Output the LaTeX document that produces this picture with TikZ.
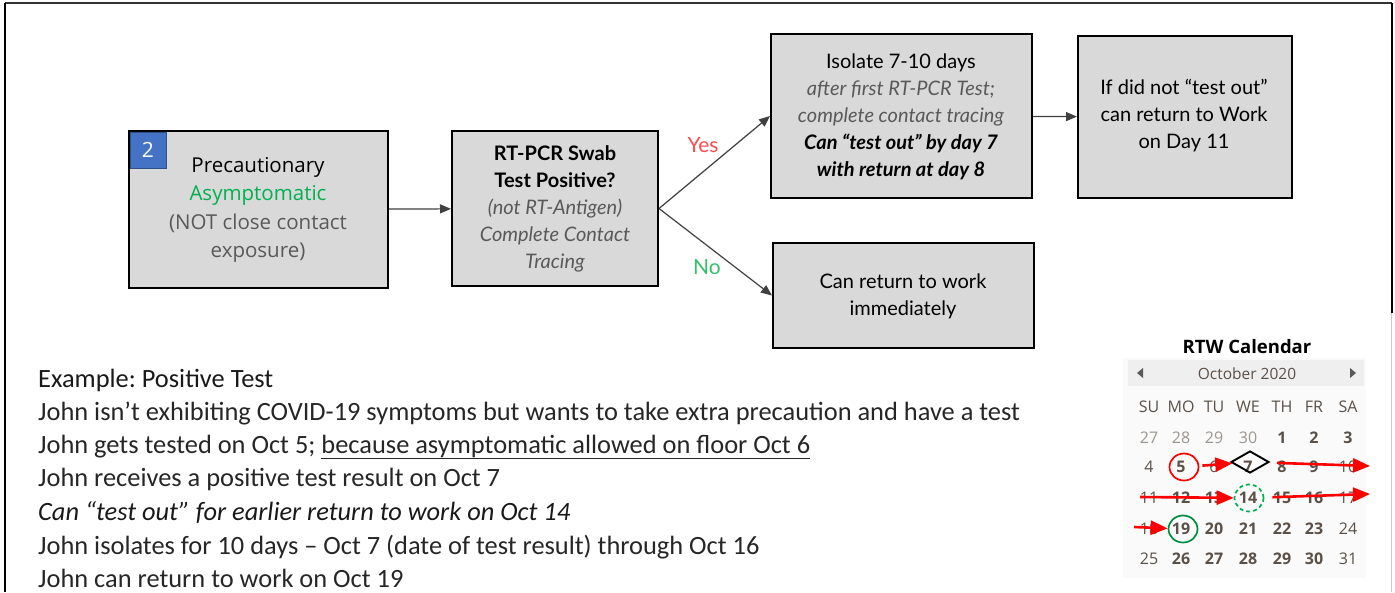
\documentclass[tikz,border=0pt]{standalone}
\usepackage{fontspec}
\setmainfont{Carlito}
\newfontfamily\boxfont{Lato}
\newfontfamily\segfont{Open Sans}
\usepackage{tikz}
\usetikzlibrary{shapes,arrows,arrows.meta, positioning}
\definecolor{boxgray}{HTML}{D9D9D9}
\definecolor{linegray}{HTML}{404040}
\definecolor{softgray}{HTML}{595959}
\definecolor{badgeblue}{HTML}{4472C4}
\definecolor{yesred}{HTML}{FF4B4B}
\definecolor{nogreen}{HTML}{33C06A}
\definecolor{asymgreen}{HTML}{00B050}
\definecolor{calbg}{HTML}{FAFAFA}
\definecolor{calbar}{HTML}{EFEFEF}
\definecolor{daytext}{HTML}{5A5048}
\tikzstyle{gbox} = [rectangle, draw, line width=2pt, fill=boxgray, anchor=north west, inner sep=0pt]
\tikzstyle{boxtext} = [align=center, inner sep=0pt, font=\boxfont\fontsize{20}{27}\selectfont]
\tikzstyle{line} = [draw, color=linegray, line width=1.2pt, -{Triangle[length=11pt,width=9pt]}]
\tikzstyle{redarrow} = [draw, red, line width=2.6pt, -{Triangle[length=17pt,width=14pt]}]
\tikzstyle{txt} = [anchor=base west, inner sep=0pt, text=black!90, font=\fontsize{26.4}{26.4}\selectfont]
\tikzstyle{day} = [inner sep=0pt, text=daytext, font=\segfont\fontsize{16}{16}\selectfont]
\tikzstyle{daybold} = [day, font=\segfont\bfseries\fontsize{16}{16}\selectfont]
\tikzstyle{dayold} = [day, text=daytext!60]
\tikzstyle{ring} = [ellipse, draw, line width=1.7pt, minimum width=29, minimum height=27, inner sep=0pt]

\begin{document}
\frenchspacing
\begin{tikzpicture}[x=1pt, y=-1pt]
			\useasboundingbox (0,0) rectangle (1395,592);
			% frame
			\draw [line width=2pt, black!80] (5,3) -- (1392,3);
			\draw [line width=2.6pt] (5,3) -- (5,592);
			\draw [line width=2.6pt] (1392,3) -- (1392,313);
			\draw [line width=0.8pt, black!20] (1391,313) -- (1391,592);

			% flow chart
			\node [gbox, minimum width=259, minimum height=157] (prec) at (128,130) {};
			\node [boxtext, font=\segfont\fontsize{20.5}{28.5}\selectfont] (prectext) at (258,210) {Precautionary\\ \textcolor{asymgreen}{Asymptomatic}\\ \textcolor{softgray}{(NOT close contact}\\ \textcolor{softgray}{exposure)}};
			\node [rectangle, fill=badgeblue, draw=badgeblue!70!black, line width=0.8pt, anchor=north west, minimum size=36, inner sep=0pt, text=white, font=\segfont\fontsize{21}{21}\selectfont] (badge) at (129.5,131.5) {2};
			\node [gbox, minimum width=206, minimum height=155] (rtpcr) at (451,130) {};
			\node [boxtext] (rtpcrtext) at (555,209) {\bfseries RT-PCR Swab\\ \bfseries Test Positive?\\ \textcolor{softgray}{\itshape (not RT-Antigen)}\\ \textcolor{softgray}{\itshape Complete Contact}\\ \textcolor{softgray}{\itshape Tracing}};
			\node [gbox, minimum width=261, minimum height=164] (iso) at (770,33) {};
			\node [boxtext] (isotext) at (901,117) {Isolate 7-10 days\\ \textcolor{softgray}{\itshape after first RT-PCR Test;}\\ \textcolor{softgray}{\itshape complete contact tracing}\\ \bfseries\itshape Can “test out” by day 7\\ \bfseries\itshape with return at day 8};
			\node [gbox, minimum width=214, minimum height=162] (ifnot) at (1077,35) {};
			\node [boxtext] (ifnottext) at (1184,116) {If did not “test out”\\ can return to Work\\ on Day 11};
			\node [gbox, minimum width=261, minimum height=105] (rtw) at (772,242) {};
			\node [boxtext] (rtwtext) at (903,296) {Can return to work\\ immediately};

			\path [line] (prec) -- (rtpcr);
			\path [line] (rtpcr.east) -- (iso.west);
			\path [line] (rtpcr.east) -- (rtw.west);
			\path [line] (iso) -- (ifnot);
			\node [text=yesred, font=\boxfont\fontsize{21}{21}\selectfont] (yes) at (703,145) {Yes};
			\node [text=nogreen, font=\boxfont\fontsize{21}{21}\selectfont] (no) at (707,267) {No};

			% example text
			\node [txt] (extitle) at (38,387) {Example: Positive Test};
			\node [txt, text=black!85] (ex1) at (38,420) {John isn’t exhibiting COVID-19 symptoms but wants to take extra precaution and have a test};
			\node [txt, text=black!85] (ex2) at (38,453) {John gets tested on Oct 5; \underline{because asymptomatic allowed on floor Oct 6}};
			\node [txt, text=black!85] (ex3) at (38,486) {John receives a positive test result on Oct 7};
			\node [txt, font=\itshape\fontsize{26.4}{26.4}\selectfont] (ex4) at (38,520) {Can “test out” for earlier return to work on Oct 14};
			\node [txt, text=black!85] (ex5) at (38,554) {John isolates for 10 days – Oct 7 (date of test result) through Oct 16};
			\node [txt, text=black!85] (ex6) at (38,587) {John can return to work on Oct 19};

			% calendar
			\node [font=\segfont\bfseries\fontsize{18.5}{18.5}\selectfont] (caltitle) at (1247,347) {RTW Calendar};
			\fill [calbg] (1123,358) rectangle (1366,578);
			\fill [calbar] (1128,360) rectangle (1364,386);
			\node [day, font=\segfont\fontsize{15.5}{15.5}\selectfont] (month) at (1247,374) {October 2020};
			\fill [softgray] (1137,373) -- (1143,368) -- (1143,378) -- cycle;
			\fill [softgray] (1356,373) -- (1350,368) -- (1350,378) -- cycle;
			\foreach \x/\d in {1149/SU, 1181/MO, 1214/TU, 1248/WE, 1282/TH, 1314/FR, 1348/SA}
				\node [day] (h\d) at (\x,407) {\d};
			\foreach \x/\d/\s/\n in {1149/27/dayold/p27, 1181/28/dayold/p28, 1214/29/dayold/p29, 1248/30/dayold/p30, 1282/1/daybold/d1, 1314/2/daybold/d2, 1348/3/daybold/d3}
				\node [\s] (\n) at (\x,438) {\d};
			\foreach \x/\d/\s in {1149/4/day, 1181/5/daybold, 1214/6/day, 1248/7/daybold, 1282/8/daybold, 1314/9/daybold, 1348/10/day}
				\node [\s] (d\d) at (\x,467) {\d};
			\foreach \x/\d/\s in {1149/11/day, 1181/12/daybold, 1214/13/daybold, 1248/14/daybold, 1282/15/daybold, 1314/16/daybold, 1348/17/day}
				\node [\s] (d\d) at (\x,498) {\d};
			\foreach \x/\d/\s in {1149/18/day, 1181/19/daybold, 1214/20/daybold, 1248/21/daybold, 1282/22/daybold, 1314/23/daybold, 1348/24/day}
				\node [\s] (d\d) at (\x,529) {\d};
			\foreach \x/\d/\s in {1149/25/day, 1181/26/daybold, 1214/27/daybold, 1248/28/daybold, 1282/29/daybold, 1314/30/daybold, 1348/31/day}
				\node [\s] (d\d) at (\x,559) {\d};

			\node [ring, draw=red] (c5) at (1184,467) {};
			\node [diamond, draw, line width=1.9pt, minimum width=38, minimum height=22, inner sep=0pt] (k7) at (1250,462) {};
			\node [ring, draw=asymgreen, dashed, dash pattern=on 4pt off 3pt] (c14) at (1249,498) {};
			\node [ring, draw=asymgreen!80!black] (c19) at (1183,529) {};
			\coordinate (e2) at (1370,466);
			\coordinate (s3) at (1140,497);
			\coordinate (e3) at (1370,494);
			\coordinate (s4) at (1134,527);
			\path [redarrow, shorten <=3pt] (c5) -- (k7);
			\path [redarrow, shorten <=8pt] (k7) -- (e2);
			\path [redarrow] (s3) -- (c14);
			\path [redarrow, shorten <=8pt] (c14) -- (e3);
			\path [redarrow] (s4) -- (c19);
		\end{tikzpicture}
\end{document}
